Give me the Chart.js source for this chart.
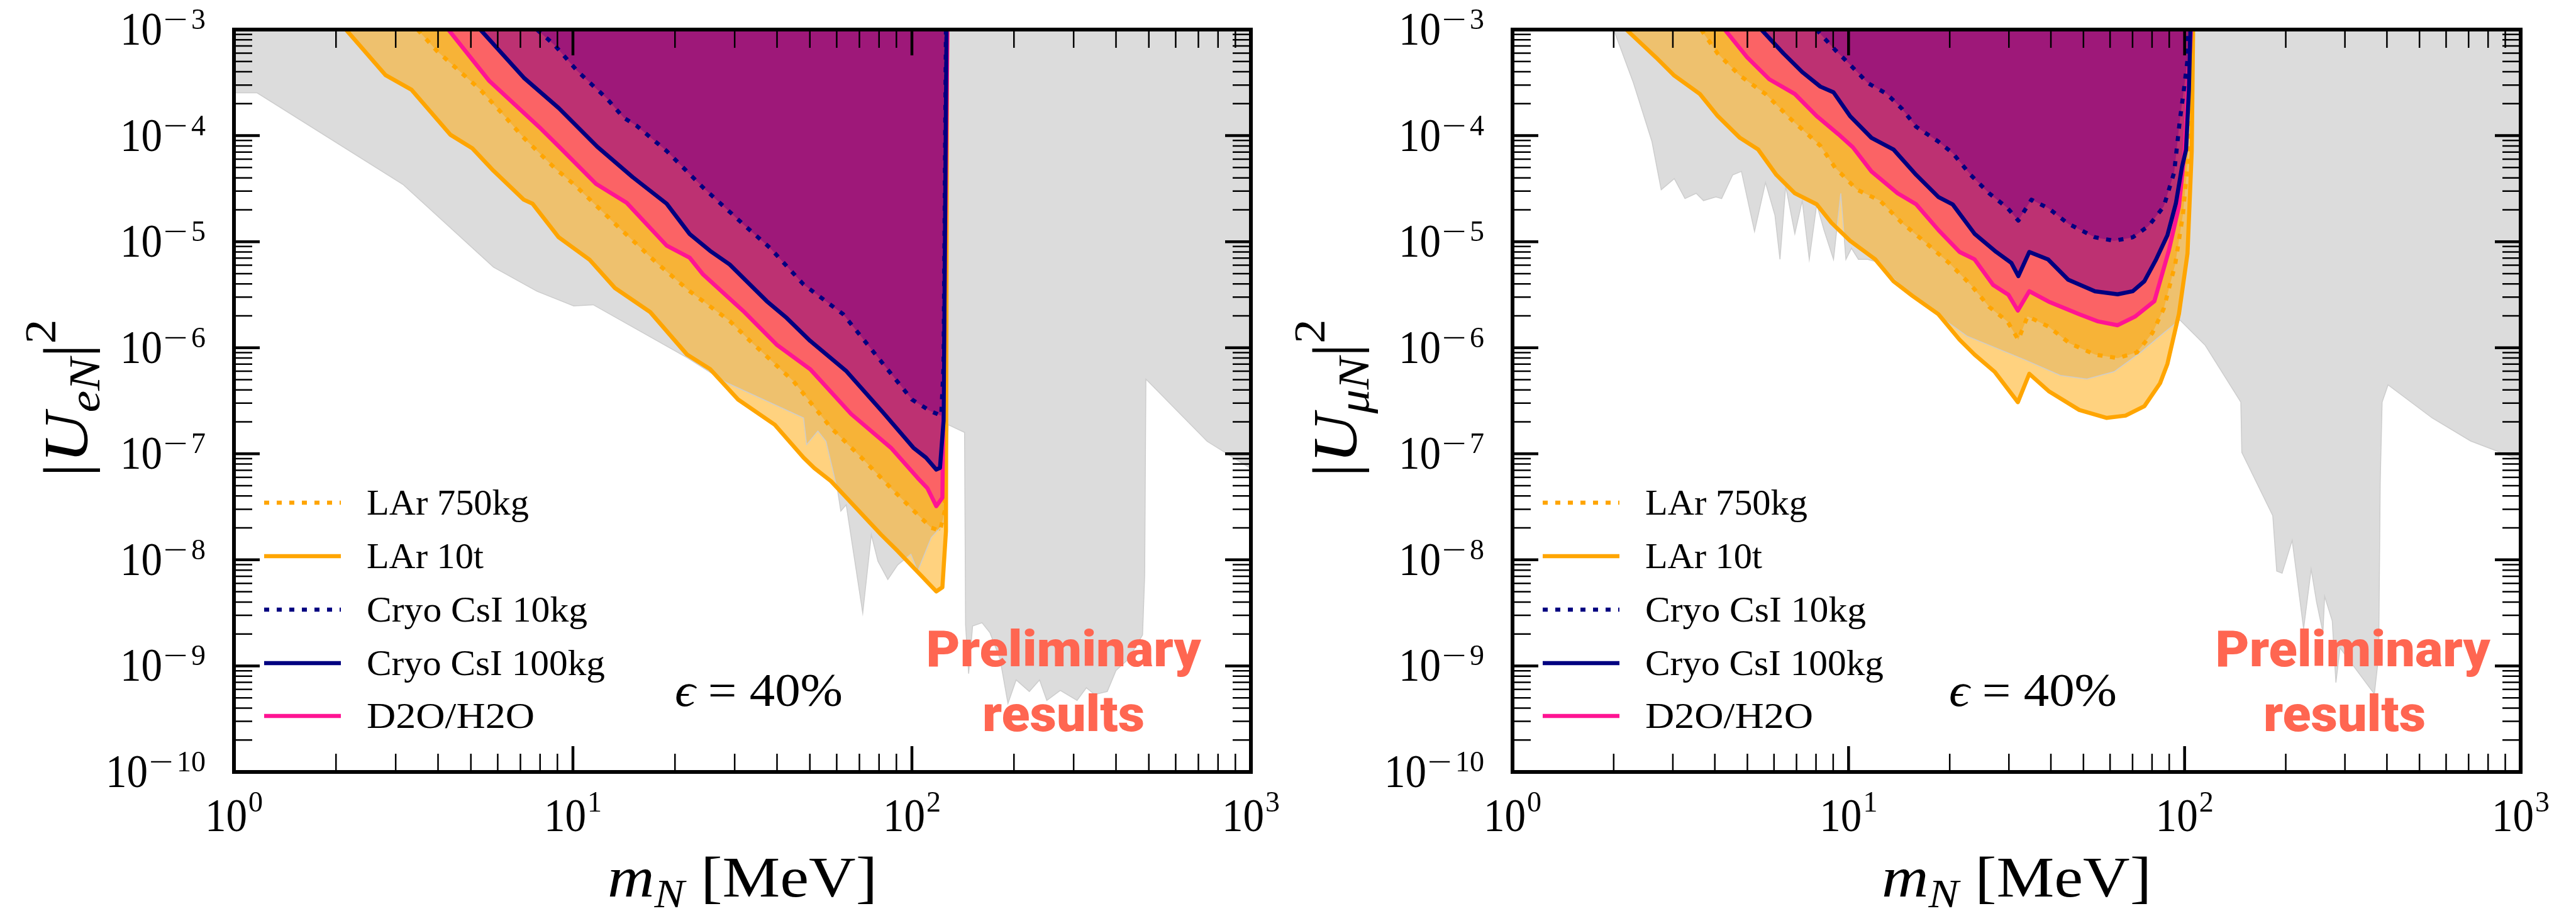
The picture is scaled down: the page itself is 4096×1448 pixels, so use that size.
<!DOCTYPE html>
<html>
<head>
<meta charset="utf-8">
<script src="https://cdn.jsdelivr.net/npm/chart.js@4.4.1/dist/chart.umd.min.js"></script>
<style>
  html, body { margin: 0; padding: 0; background: #ffffff; }
  body { width: 4096px; height: 1448px; position: relative; overflow: hidden; }
  canvas { position: absolute; top: 0; }
</style>
</head>
<body>
<canvas id="panelE" width="2048" height="1448" style="left:0px"></canvas>
<canvas id="panelMu" width="2048" height="1448" style="left:2048px"></canvas>
<script>
// ---------------- axis ticks and labels ----------------
const massTickExps = [0, 1, 2, 3];
const mixingTickExps = [-10, -9, -8, -7, -6, -5, -4, -3];
const legendLabels = ['LAr 750kg', 'LAr 10t', 'Cryo CsI 10kg', 'Cryo CsI 100kg', 'D2O/H2O'];
const legendWidths = [258, 186, 351, 379, 267];

// ---------------- |U_eN|^2 panel ----------------
// existing limits (grey)
const eExclMass = [1.0, 1.17, 3.15, 5.83, 7.83, 10.05, 11.48, 21.7, 28.4, 47.9, 48.9, 52.8, 55.8, 60.4, 61.7, 64.0, 71.6, 75.9, 79.4, 84.9, 90.8, 99.3, 104, 114, 125, 128, 143, 144, 147, 151, 161, 170, 182, 192, 203, 222, 238, 250, 274, 307, 327, 346, 377, 400, 435, 479, 486, 490, 743, 1000];
const eExclU2 = [2.53e-4, 2.53e-4, 3.47e-5, 5.75e-6, 3.41e-6, 2.48e-6, 2.54e-6, 8.07e-7, 4.68e-7, 2.18e-7, 1.22e-7, 1.64e-7, 1.31e-7, 4.46e-8, 2.89e-8, 3.31e-8, 3.16e-9, 1.73e-8, 9.73e-9, 6.53e-9, 8.97e-9, 1.13e-8, 7.83e-9, 1.62e-8, 2.23e-8, 1.88e-7, 1.59e-7, 2.43e-9, 8.45e-10, 2.38e-9, 2.55e-9, 2.05e-9, 1.16e-9, 4.43e-10, 7.38e-10, 5.74e-10, 7.38e-10, 4.73e-10, 5.87e-10, 4.73e-10, 6.22e-10, 5.37e-10, 5.74e-10, 9.06e-10, 1.16e-9, 1.96e-9, 7.14e-9, 5.06e-7, 1.31e-7, 7.25e-8];

const eLAr10tMass = [2.14, 2.80, 3.34, 4.35, 5.05, 5.83, 7.16, 7.60, 9.08, 11.2, 13.3, 16.9, 21.7, 25.4, 30.7, 39.4, 47.9, 51.5, 57.7, 81.1, 90.8, 107, 118, 123, 126, 127];
const eLAr10tU2 = [1e-3, 3.72e-4, 2.71e-4, 1.02e-4, 7.59e-5, 4.66e-5, 2.49e-5, 2.28e-5, 1.10e-5, 6.75e-6, 3.66e-6, 2.17e-6, 8.63e-7, 6.28e-7, 3.25e-7, 1.88e-7, 9.20e-8, 7.35e-8, 5.52e-8, 1.73e-8, 1.21e-8, 7.00e-9, 5.04e-9, 5.51e-9, 1.86e-8, 1e-3];

const eLAr750Mass = [3.48, 3.97, 5.33, 6.19, 7.16, 8.81, 10.2, 13.7, 17.8, 22.1, 29.0, 33.3, 44.7, 57.7, 71.0, 86.7, 104, 114, 121, 125, 126.5];
const eLAr750U2 = [1e-3, 6.28e-4, 2.71e-4, 1.61e-4, 9.53e-5, 4.99e-5, 3.35e-5, 1.35e-5, 6.17e-6, 3.41e-6, 1.79e-6, 1.16e-6, 4.84e-7, 1.76e-7, 9.20e-8, 4.76e-8, 2.67e-8, 2.01e-8, 1.88e-8, 2.89e-8, 1e-3];

const eWaterMass = [4.29, 5.66, 8.05, 9.14, 11.7, 14.4, 18.9, 22.1, 24.2, 31.8, 39.9, 50.1, 66.2, 86.7, 104, 111, 118, 123, 127.3];
const eWaterU2 = [1e-3, 3.29e-4, 1.16e-4, 7.76e-5, 3.51e-5, 2.33e-5, 9.18e-6, 7.06e-6, 4.91e-6, 2.22e-6, 1.07e-6, 6.28e-7, 2.37e-7, 1.14e-7, 5.92e-8, 4.76e-8, 3.21e-8, 3.85e-8, 1e-3];

const eCsI100Mass = [5.33, 7.16, 9.08, 11.8, 15.0, 18.9, 22.1, 25.4, 29.0, 37.3, 42.7, 50.1, 64.1, 82.2, 101, 110, 118, 121, 124, 126.5];
const eCsI100U2 = [1e-3, 3.52e-4, 1.82e-4, 7.85e-5, 4.06e-5, 2.28e-5, 1.18e-5, 8.18e-6, 6.10e-6, 2.75e-6, 1.91e-6, 1.16e-6, 6.00e-7, 2.45e-7, 1.14e-7, 9.20e-8, 7.10e-8, 7.35e-8, 2.04e-7, 1e-3];

const eCsI10Mass = [7.83, 8.81, 10.3, 12.6, 14.1, 15.4, 18.9, 24.2, 31.8, 38.1, 47.9, 62.7, 83.9, 100, 113, 122, 124, 126];
const eCsI10U2 = [1e-3, 7.19e-4, 4.07e-4, 2.23e-4, 1.48e-4, 1.24e-4, 7.16e-5, 3.24e-5, 1.46e-5, 8.77e-6, 3.95e-6, 2.07e-6, 6.50e-7, 3.25e-7, 2.54e-7, 2.29e-7, 6.73e-7, 1e-3];

// ---------------- |U_muN|^2 panel ----------------
const muExclMass = [2.00, 2.29, 2.60, 2.77, 3.03, 3.26, 3.52, 3.70, 4.03, 4.19, 4.52, 4.80, 5.25, 5.66, 6.04, 6.25, 6.50, 6.92, 7.28, 7.64, 8.04, 8.45, 9.02, 9.48, 9.82, 10.2, 10.7, 11.4, 12.0, 15.9, 22.5, 33.7, 42.7, 51.2, 61.7, 74.0, 86.7, 96.8, 115, 147, 148, 183, 188, 195, 209, 226, 238, 247, 258, 261, 275, 282, 290, 367, 378, 382, 387, 403, 545, 710, 1000];
const muExclU2 = [1e-3, 3.14e-4, 8.79e-5, 3.09e-5, 3.93e-5, 2.55e-5, 2.86e-5, 2.44e-5, 2.64e-5, 2.55e-5, 4.26e-5, 4.60e-5, 1.25e-5, 3.62e-5, 1.77e-5, 6.82e-6, 3.35e-5, 1.19e-5, 2.44e-5, 6.82e-6, 2.25e-5, 1.29e-5, 6.82e-6, 2.86e-5, 6.82e-6, 8.67e-6, 6.82e-6, 6.82e-6, 6.52e-6, 2.84e-6, 1.29e-6, 7.62e-7, 5.48e-7, 5.06e-7, 5.94e-7, 9.04e-7, 1.38e-6, 1.83e-6, 1.06e-6, 3.07e-7, 1.03e-7, 2.61e-8, 7.83e-9, 7.48e-9, 1.53e-8, 2.24e-9, 8.20e-9, 4.01e-9, 2.07e-9, 4.54e-9, 2.66e-9, 6.97e-10, 1.48e-9, 5.43e-10, 1.26e-9, 5.35e-8, 3.07e-7, 4.47e-7, 2.18e-7, 1.32e-7, 8.71e-8];

const muLAr10tMass = [2.18, 2.67, 3.03, 3.61, 4.08, 4.75, 5.38, 6.10, 6.92, 8.04, 8.89, 10.1, 12.0, 13.6, 15.5, 18.5, 21.4, 23.7, 27.2, 31.9, 34.5, 39.4, 48.6, 58.5, 66.7, 75.9, 84.5, 88.9, 96.2, 102, 105, 106];
const muLAr10tU2 = [1e-3, 5.48e-4, 3.68e-4, 2.47e-4, 1.53e-4, 9.53e-5, 7.41e-5, 4.26e-5, 2.86e-5, 2.25e-5, 1.51e-5, 1.02e-5, 6.82e-6, 4.24e-6, 3.08e-6, 2.07e-6, 1.19e-6, 8.63e-7, 5.94e-7, 3.07e-7, 5.68e-7, 3.90e-7, 2.59e-7, 2.18e-7, 2.29e-7, 2.81e-7, 4.62e-7, 7.05e-7, 2.09e-6, 7.73e-6, 7.10e-5, 1e-3];

const muLAr750Mass = [3.64, 4.08, 4.75, 5.66, 6.75, 8.24, 9.12, 10.6, 12.4, 14.4, 16.7, 19.9, 23.1, 26.2, 29.7, 32.0, 34.1, 39.4, 45.5, 54.1, 63.2, 72.1, 80.2, 86.7, 93.8, 98.9, 102, 104];
const muLAr750U2 = [1e-3, 5.93e-4, 3.68e-4, 2.47e-4, 1.42e-4, 8.04e-5, 4.99e-5, 3.09e-5, 2.44e-5, 1.51e-5, 1.02e-5, 6.31e-6, 3.92e-6, 2.43e-6, 1.77e-6, 1.19e-6, 1.98e-6, 1.58e-6, 1.10e-6, 8.63e-7, 7.98e-7, 9.04e-7, 1.38e-6, 2.34e-6, 6.17e-6, 1.82e-5, 5.33e-5, 1e-3];

const muWaterMass = [4.28, 4.99, 5.81, 6.92, 8.04, 9.33, 10.3, 11.7, 14.0, 15.9, 18.5, 21.4, 23.7, 26.9, 29.9, 31.9, 34.5, 39.4, 48.6, 55.3, 63.2, 71.1, 81.3, 89.7, 96.2, 100, 104.5];
const muWaterU2 = [1e-3, 5.48e-4, 3.40e-4, 2.47e-4, 1.53e-4, 1.03e-4, 7.76e-5, 4.60e-5, 2.86e-5, 2.25e-5, 1.29e-5, 8.00e-6, 6.82e-6, 3.92e-6, 3.16e-6, 2.24e-6, 3.41e-6, 2.72e-6, 2.07e-6, 1.77e-6, 1.63e-6, 1.96e-6, 2.75e-6, 8.18e-6, 2.15e-5, 7.10e-5, 1e-3];

const muCsI100Mass = [5.50, 6.41, 7.28, 8.24, 9.02, 10.1, 11.7, 13.6, 15.9, 18.5, 20.4, 23.7, 27.5, 30.5, 32.0, 34.5, 39.2, 45.0, 54.1, 63.2, 70.1, 75.9, 82.0, 88.9, 94.2, 98.2, 101, 103, 104];
const muCsI100U2 = [1e-3, 5.93e-4, 3.98e-4, 2.90e-4, 2.56e-4, 1.53e-4, 9.53e-5, 7.41e-5, 4.26e-5, 2.64e-5, 2.25e-5, 1.19e-5, 8.00e-6, 6.31e-6, 4.74e-6, 8.00e-6, 6.82e-6, 4.39e-6, 3.41e-6, 3.19e-6, 3.41e-6, 4.24e-6, 6.67e-6, 1.15e-5, 2.30e-5, 5.05e-5, 7.33e-5, 2.71e-4, 1e-3];

const muCsI10Mass = [8.02, 9.12, 10.1, 11.4, 13.0, 14.4, 15.9, 18.5, 20.4, 23.1, 26.2, 29.7, 32.0, 35.0, 39.4, 45.0, 54.1, 61.7, 70.1, 78.2, 86.7, 93.1, 96.8, 99.5, 102, 102.6];
const muCsI10U2 = [1e-3, 6.43e-4, 4.67e-4, 3.14e-4, 2.47e-4, 1.80e-4, 1.21e-4, 8.79e-5, 6.85e-5, 4.25e-5, 2.86e-5, 2.08e-5, 1.58e-5, 2.49e-5, 2.06e-5, 1.48e-5, 1.10e-5, 1.02e-5, 1.10e-5, 1.41e-5, 2.15e-5, 4.50e-5, 1.40e-4, 2.71e-4, 5.18e-4, 1e-3];

// ---------------- styling ----------------
const SERIF = "'Liberation Serif', 'DejaVu Serif', serif";
const DOTS = [8, 12];
const STYLE = {
  'LAr 750kg':      { line: '#FFA500', fill: 'rgba(255,165,0,0.5)',  dash: DOTS },
  'LAr 10t':        { line: '#FFA500', fill: 'rgba(255,165,0,0.5)',  dash: [] },
  'Cryo CsI 10kg':  { line: '#000080', fill: 'rgba(128,0,128,0.5)',  dash: DOTS },
  'Cryo CsI 100kg': { line: '#000080', fill: 'rgba(128,0,128,0.5)',  dash: [] },
  'D2O/H2O':        { line: '#FF1493', fill: 'rgba(255,20,147,0.5)', dash: [] }
};

function pts(ms, us) { return ms.map((m, i) => ({ x: m, y: us[i] })); }

function curve(label, ms, us) {
  const s = STYLE[label];
  return {
    label, data: pts(ms, us),
    borderColor: s.line, backgroundColor: s.fill,
    borderWidth: 6.5, borderDash: s.dash,
    borderCapStyle: 'butt', borderJoinStyle: 'round',
    fill: 'end', pointRadius: 0, pointHoverRadius: 0, tension: 0
  };
}

function excluded(ms, us) {
  return {
    label: 'excluded', data: pts(ms, us),
    borderColor: '#cdcdcd', backgroundColor: '#dcdcdc', borderWidth: 1.5,
    fill: 'end', pointRadius: 0, pointHoverRadius: 0, tension: 0
  };
}

// ---------------- text helpers ----------------
function measure(ctx, s, font) { ctx.font = font; return ctx.measureText(s).width; }

function txt(ctx, s, x, y, font, sx = 1, color = '#000') {
  const w = measure(ctx, s, font) * sx;
  ctx.save();
  ctx.font = font;
  ctx.fillStyle = color;
  ctx.textAlign = 'left';
  ctx.textBaseline = 'alphabetic';
  ctx.translate(x, y);
  ctx.scale(sx, 1);
  ctx.fillText(s, 0, 0);
  ctx.restore();
  return w;
}

const BASE_FONT = `73px ${SERIF}`;
const BASE_SX = 0.92;
const EXP_FONT = `46px ${SERIF}`;
const MINUS_SX = 1.5;

function powWidth(ctx, exp) {
  let w = measure(ctx, '10', BASE_FONT) * BASE_SX + 2;
  if (exp < 0) w += measure(ctx, '\u2212', EXP_FONT) * MINUS_SX + 5;
  w += measure(ctx, String(Math.abs(exp)), EXP_FONT);
  return w;
}

function drawPow(ctx, exp, xLeft, baseY, supY) {
  let x = xLeft;
  x += txt(ctx, '10', x, baseY, BASE_FONT, BASE_SX) + 2;
  if (exp < 0) x += txt(ctx, '\u2212', x, supY, EXP_FONT, MINUS_SX) + 5;
  txt(ctx, String(Math.abs(exp)), x, supY, EXP_FONT);
}

// draws a sequence of pieces {t, font, dy} stretched to a given total width
function drawRun(ctx, parts, x, y, targetW, color = '#000') {
  let raw = 0;
  for (const p of parts) { p.w = measure(ctx, p.t, p.font); raw += p.w; }
  const sx = targetW / raw;
  let cx = x;
  for (const p of parts) { txt(ctx, p.t, cx, y + (p.dy || 0), p.font, sx, color); cx += p.w * sx; }
}

// ---------------- frame, ticks and annotations ----------------
const decor = {
  id: 'decor',
  afterDatasetsDraw(chart) {
    const { ctx, chartArea: a, scales: { x, y } } = chart;
    ctx.save();
    ctx.strokeStyle = '#000';
    ctx.lineCap = 'butt';
    for (let e = 0; e <= 3; e++) {
      for (let k = 1; k <= 9; k++) {
        const v = k * Math.pow(10, e);
        if (v > 1000.01) break;
        const px = x.getPixelForValue(v);
        const major = k === 1;
        const len = major ? 41 : 29;
        ctx.lineWidth = major ? 4.5 : 2.5;
        ctx.beginPath();
        ctx.moveTo(px, a.bottom); ctx.lineTo(px, a.bottom - len);
        ctx.moveTo(px, a.top); ctx.lineTo(px, a.top + len);
        ctx.stroke();
      }
    }
    for (let e = -10; e <= -3; e++) {
      for (let k = 1; k <= 9; k++) {
        const v = k * Math.pow(10, e);
        if (v > 1.0001e-3) break;
        const py = y.getPixelForValue(v);
        const major = k === 1;
        const len = major ? 41 : 29;
        ctx.lineWidth = major ? 4.5 : 2.5;
        ctx.beginPath();
        ctx.moveTo(a.left, py); ctx.lineTo(a.left + len, py);
        ctx.moveTo(a.right, py); ctx.lineTo(a.right - len, py);
        ctx.stroke();
      }
    }
    ctx.lineWidth = 6;
    ctx.strokeRect(a.left, a.top, a.right - a.left, a.bottom - a.top);
    ctx.restore();
  },
  afterDraw(chart, args, o) {
    const { ctx, chartArea: a, scales: { x, y } } = chart;

    // tick labels
    for (const e of mixingTickExps) {
      const py = y.getPixelForValue(Math.pow(10, e));
      const w = powWidth(ctx, e);
      drawPow(ctx, e, a.left - 45 - w, py + 24, py - 1);
    }
    for (const e of massTickExps) {
      const px = x.getPixelForValue(Math.pow(10, e));
      const w = powWidth(ctx, e);
      drawPow(ctx, e, px - w / 2, a.bottom + 94, a.bottom + 63);
    }

    // x title: m_N [MeV]
    const xw = 429;
    drawRun(ctx, [
      { t: 'm', font: `italic 92px ${SERIF}` },
      { t: 'N', font: `italic 64px ${SERIF}`, dy: 17 },
      { t: ' [MeV]', font: `92px ${SERIF}` }
    ], (a.left + a.right) / 2 - xw / 2, a.bottom + 198, xw);

    // y title: |U_xN|^2 (rotated)
    ctx.save();
    ctx.translate(a.left - o.yTitleOffset, (a.top + a.bottom) / 2 - 4);
    ctx.rotate(-Math.PI / 2);
    const yw = 251;
    drawRun(ctx, [
      { t: '|', font: `100px ${SERIF}` },
      { t: 'U', font: `italic 100px ${SERIF}` },
      { t: o.flavour + 'N', font: `italic 70px ${SERIF}`, dy: 20 },
      { t: '|', font: `100px ${SERIF}` },
      { t: '2', font: `70px ${SERIF}`, dy: -50 }
    ], -yw / 2, 0, yw);
    ctx.restore();

    // legend
    const rows = [799, 884, 969, 1054, 1138];
    legendLabels.forEach((lab, i) => {
      const ds = chart.data.datasets.find(d => d.label === lab);
      const ly = rows[i];
      ctx.save();
      ctx.strokeStyle = ds.borderColor;
      ctx.lineWidth = 6.5;
      ctx.lineCap = 'butt';
      ctx.setLineDash(ds.borderDash || []);
      ctx.beginPath();
      ctx.moveTo(a.left + 48, ly);
      ctx.lineTo(a.left + 170, ly);
      ctx.stroke();
      ctx.restore();
      drawRun(ctx, [{ t: lab, font: `56px ${SERIF}` }], a.left + 211, ly + 19, legendWidths[i]);
    });

    // efficiency note
    drawRun(ctx, [
      { t: '\u03F5', font: `italic 73px ${SERIF}` },
      { t: ' = 40%', font: `73px ${SERIF}` }
    ], a.left + o.epsX, 1122, 267);

    // preliminary stamp
    const red = '#FF6651';
    const pf = `900 80px Roboto, 'Liberation Sans', sans-serif`;
    drawRun(ctx, [{ t: 'Preliminary', font: pf }], a.left + o.stampX - 437 / 2, 1059, 437, red);
    drawRun(ctx, [{ t: 'results', font: pf }], a.left + o.stampX2 - 258 / 2, 1162, 258, red);
  }
};

function makePanel(id, sets, pad, decorOpts) {
  return new Chart(document.getElementById(id), {
    type: 'line',
    data: { datasets: sets },
    options: {
      responsive: false,
      animation: false,
      devicePixelRatio: 1,
      layout: { padding: pad },
      scales: {
        x: { type: 'logarithmic', min: 1, max: 1000, display: false },
        y: { type: 'logarithmic', min: 1e-10, max: 1e-3, display: false }
      },
      plugins: {
        legend: { display: false },
        tooltip: { enabled: false },
        filler: { drawTime: 'beforeDatasetsDraw' },
        decor: decorOpts
      }
    },
    plugins: [decor]
  });
}

makePanel('panelE', [
  curve('Cryo CsI 10kg', eCsI10Mass, eCsI10U2),
  curve('Cryo CsI 100kg', eCsI100Mass, eCsI100U2),
  curve('D2O/H2O', eWaterMass, eWaterU2),
  curve('LAr 750kg', eLAr750Mass, eLAr750U2),
  curve('LAr 10t', eLAr10tMass, eLAr10tU2),
  excluded(eExclMass, eExclU2)
], { left: 372, top: 47, right: 59, bottom: 221 },
   { flavour: 'e', yTitleOffset: 234, epsX: 701, stampX: 1319, stampX2: 1319 });

makePanel('panelMu', [
  curve('Cryo CsI 10kg', muCsI10Mass, muCsI10U2),
  curve('Cryo CsI 100kg', muCsI100Mass, muCsI100U2),
  curve('D2O/H2O', muWaterMass, muWaterU2),
  curve('LAr 750kg', muLAr750Mass, muLAr750U2),
  curve('LAr 10t', muLAr10tMass, muLAr10tU2),
  excluded(muExclMass, muExclU2)
], { left: 357, top: 47, right: 88, bottom: 221 },
   { flavour: '\u03BC', yTitleOffset: 249, epsX: 694, stampX: 1336, stampX2: 1323 });
</script>
</body>
</html>
